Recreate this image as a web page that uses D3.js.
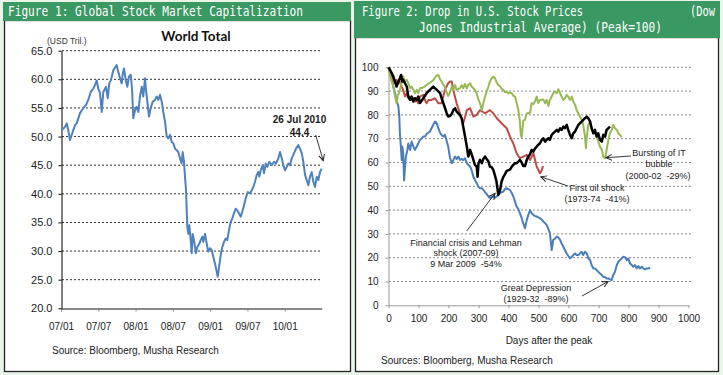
<!DOCTYPE html>
<html>
<head>
<meta charset="utf-8">
<script src="https://cdn.jsdelivr.net/npm/d3@7"></script>
<style>
body { margin: 0; background: #e9f5e9; }
svg { display: block; }
text { white-space: pre; }
</style>
</head>
<body>
<script>
// ---- Figure 1: world market cap (USD tril.), x = months since Jan 2007 ----
const worldMonths = [0.1,0.64,0.92,1.17,1.45,1.88,2.25,2.53,3.06,3.59,
  4.02,4.39,4.78,5.2,5.47,5.75,6.0,6.28,6.55,6.81,
  7.24,7.52,7.77,8.05,8.42,8.96,9.22,9.49,9.77,9.93,
  10.14,10.41,10.67,10.94,11.22,11.43,11.63,11.91,12.18,12.44,
  12.71,12.99,13.24,13.52,13.68,13.89,14.16,14.44,14.76,15.13,
  15.4,15.66,15.93,16.21,16.46,16.74,17.01,17.27,17.54,17.81,
  18.07,18.35,18.62,18.88,19.15,19.42,19.58,19.79,19.95,20.12,
  20.23,20.33,20.49,20.65,20.87,21.03,21.19,21.4,21.72,21.93,
  22.26,22.48,22.74,22.9,23.17,23.45,23.7,23.98,24.25,24.51,
  24.78,25.06,25.22,25.47,25.7,25.96,26.23,26.5,26.76,27.04,
  27.31,27.57,27.84,28.11,28.37,28.64,28.92,29.18,29.45,29.72,
  30.05,30.42,30.69,30.95,31.22,31.49,31.75,31.91,32.14,32.46,
  32.67,32.94,33.2,33.52,33.91,34.28,34.6,34.97,35.24,35.52,
  35.77,36.05,36.32,36.58,36.85,37.13,37.5,37.82,38.19,38.46,
  38.74,38.99,39.27,39.54,39.8,40.07,40.34,40.6,40.88,41.15,
  41.41,41.68,41.95];
const worldCap = [51.1,51.7,52.3,51.1,49.4,50.8,52.0,52.3,54.1,55.0,
  55.5,56.4,57.8,58.4,59.0,59.8,58.4,57.6,54.3,57.8,
  58.7,56.7,59.3,59.9,61.6,62.5,61.3,60.2,59.3,61.0,
  61.9,59.9,58.7,60.5,60.8,58.4,53.2,54.6,55.2,54.3,
  57.0,58.7,57.0,60.2,58.1,56.1,53.5,55.0,56.1,56.4,
  57.0,56.4,57.3,56.1,54.3,52.6,50.0,49.7,50.3,49.1,
  48.8,47.9,47.6,47.3,46.2,45.3,47.3,45.6,43.0,40.6,
  37.1,34.2,33.0,34.5,31.9,29.6,33.0,31.9,29.6,30.7,
  31.3,31.9,32.5,31.6,33.0,31.3,29.9,30.5,30.2,29.0,
  27.8,26.4,25.5,27.5,29.3,30.7,31.6,32.2,31.9,33.7,
  35.1,35.7,36.6,37.4,37.1,36.6,36.0,36.9,38.0,39.2,
  40.3,40.1,40.6,41.2,42.1,43.3,43.8,43.0,44.1,45.0,
  43.6,45.3,44.7,45.6,45.0,45.6,45.3,46.2,47.3,46.2,
  45.0,44.1,44.7,45.3,45.0,46.2,47.1,47.9,48.5,47.9,
  47.1,45.6,43.3,42.4,41.5,43.0,43.8,42.1,41.2,43.0,
  42.4,43.8,44.4];
const worldTicks = [0, 6, 12, 18, 24, 30, 36];
const worldTickLabels = ["07/01", "07/07", "08/01", "08/07", "09/01", "09/07", "10/01"];
const worldYTicks = [20, 25, 30, 35, 40, 45, 50, 55, 60, 65];

// ---- Figure 2: DJIA after peak (peak = 100), [day, index] ----
const depression = [[0,100],[5,97.5],[11,94.7],[16,91.9],[22,89],[27,86.3],[33,83.5],[36,79.3],[38,72.3],[42,65.3],
  [44,61],[46,66.7],[49,63.9],[52,52.5],[55,58],[58,62.5],[63,65.3],[66,68],[72,65.3],[77,68.8],
  [83,66.7],[88,65.3],[94,66.7],[99,68],[105,69.5],[111,70.2],[116,70.9],[122,70.9],[127,72],[133,72.5],
  [138,73],[144,74.5],[149,75.8],[155,77.2],[158,77],[163,75.8],[166,74.4],[172,72.5],[177,71.6],[183,70.9],
  [188,71.6],[194,69],[199,66.7],[205,62],[211,59.7],[216,61],[222,62.5],[227,61.5],[233,62.5],[238,61.1],
  [244,61.5],[249,61],[255,61.8],[261,59.7],[266,59],[272,58.3],[277,56.9],[283,54],[288,52.7],[294,51.3],
  [299,49.9],[305,49.2],[311,49.2],[316,48.5],[322,47.5],[327,46.8],[333,45.7],[338,45],[344,45.5],[349,45.7],
  [355,45.2],[361,45.7],[366,46.4],[372,47.1],[377,47.5],[383,47.8],[388,48.8],[394,49.2],[399,48.8],[405,48.5],
  [411,47.1],[416,45.7],[422,43.5],[427,41.5],[433,40.3],[438,38.7],[444,36.6],[449,34.5],[455,32.4],[461,35.9],
  [466,38],[472,40],[477,38.7],[483,38],[488,37.5],[494,37.3],[505,36.6],[511,36],[516,35.2],[522,34.5],
  [527,33.8],[533,32],[538,30.3],[544,23.2],[549,27.5],[555,28],[561,28.9],[566,28.5],[572,27.5],[577,26],
  [583,24.6],[588,23.2],[594,21.8],[599,20.8],[605,19.7],[611,20.4],[616,21.1],[622,21.8],[627,21.1],[633,21.1],
  [638,21.8],[644,22.5],[649,21.1],[655,22.5],[661,21.8],[666,19.7],[672,19],[677,16.9],[683,15.5],[688,15.5],
  [694,14.8],[699,14.1],[705,13.4],[711,12.7],[716,12],[722,11.8],[727,11.3],[733,11.3],[738,10.9],[744,10.6],
  [749,12.7],[755,14.1],[761,16.9],[766,18.3],[772,19],[777,19.7],[783,20.4],[788,20.2],[794,19],[799,19.7],
  [805,17.6],[811,16.9],[816,16.2],[822,16.9],[827,15.5],[833,16.5],[838,15.5],[844,16.2],[849,15.5],[855,15.1],
  [861,15.5],[866,15.5],[872,15.8]];
const oilShock = [[0,100],[5,98.2],[11,96.1],[16,94],[22,93.3],[27,94.7],[33,93.3],[38,94],[44,91.9],[49,90.5],
  [55,87.7],[61,89.1],[66,87],[72,87.7],[77,86.3],[83,87],[88,85.6],[94,86.3],[99,84.9],[105,87.7],
  [116,88.4],[122,86],[127,84.9],[133,86.3],[144,86.3],[155,87],[166,84.9],[177,84.9],[183,88],[188,90.5],
  [199,93.3],[205,94],[211,94],[216,90.5],[227,84.9],[238,80.7],[249,76.5],[255,79],[261,82],[272,82.8],
  [283,79.3],[294,80],[305,82],[322,80.7],[338,82],[349,80.7],[361,78.6],[377,76.5],[394,74.4],[405,70.9],
  [416,68],[427,63.9],[438,61.8],[449,62.5],[461,63.2],[472,61.1],[483,63.9],[494,58.3],[505,55.5],[510,56.5],
  [515,58.5]];
const itBubble = [[0,100],[5,96.8],[11,94],[16,91.9],[22,87.7],[27,84.9],[31,88.4],[35,89.1],[38,90.5],[44,94],
  [49,96.1],[55,94],[61,94.7],[66,93.3],[72,91.2],[77,91.9],[83,90.5],[88,89.1],[94,90.5],[99,89.1],
  [105,91.2],[116,91.5],[127,92.6],[138,93.5],[149,94.5],[160,96.5],[166,96.8],[172,95],[177,94],[183,92.6],
  [188,91.9],[194,89.5],[199,88],[205,89.5],[211,91.9],[216,90.5],[222,92.5],[227,90.5],[238,91.2],[244,92.5],
  [249,91.2],[255,93],[261,91.2],[266,92.6],[272,93.3],[277,91.9],[283,91.2],[288,90.5],[294,89],[300,86.3],
  [305,84.9],[311,82],[316,84.9],[322,87.7],[327,89.8],[333,91.9],[338,94],[344,95.4],[349,96.1],[355,95.4],
  [361,93.5],[366,92.6],[372,91.9],[377,91],[383,90.5],[388,89.5],[394,89.8],[399,89],[405,89.5],[411,89.1],
  [416,88],[422,87.7],[427,85],[433,82],[438,77],[441,71.6],[444,70.5],[449,77.5],[455,78],[461,80.7],
  [466,80.7],[472,81],[477,84.9],[483,84.5],[488,85.5],[494,87.7],[499,85],[505,86.3],[516,86.5],[522,84.9],
  [527,86.3],[533,83.8],[538,86.3],[544,87.7],[549,89.1],[555,89.8],[561,89.1],[566,90.8],[572,89.1],[577,87.7],
  [583,86.3],[588,87],[594,88.4],[599,87.7],[605,86.3],[611,87.7],[616,85.6],[622,84.2],[627,82.1],[633,80.7],
  [638,79.3],[644,77.9],[649,75.8],[655,70.9],[658,66],[661,70.9],[666,75.8],[672,77.2],[677,74.4],[683,72.3],
  [688,73.7],[694,70.9],[699,68.8],[705,66.7],[711,65.3],[716,62.5],[722,61.8],[727,65.3],[733,69.5],[738,72.3],
  [744,73.7],[749,75.8],[755,74.4],[761,73.7],[766,72.3],[772,71.6],[777,70.6]];
const lehman = [[0,100],[5,98.9],[11,97.5],[16,96.1],[22,94],[27,91.9],[33,94],[38,95.4],[42,96.8],[46,94],
  [49,94.7],[55,93.3],[61,91.9],[66,87.7],[72,86.3],[77,87.7],[83,85.6],[88,87],[94,86.3],[99,87.7],
  [105,85],[116,87],[127,89.1],[138,90.5],[149,91.9],[161,90.5],[172,89.1],[177,87],[183,84.9],[188,83],
  [194,80.7],[199,79.3],[205,79.5],[211,80.5],[216,82],[222,82.8],[227,81.4],[233,80.7],[238,80],[244,78.5],
  [249,75.1],[255,71],[261,66.7],[266,62.5],[272,65.3],[277,63.5],[283,61.1],[288,59],[294,58.3],[297,54],
  [300,59.7],[305,61.1],[311,59.7],[316,61.5],[322,62.5],[327,61.5],[333,60.5],[338,58.3],[344,58],[349,57],
  [355,54.5],[360,52],[366,46.4],[372,48.5],[377,52],[383,54],[388,55],[394,56.5],[405,57],[411,58.3],
  [416,59],[422,59.7],[427,59.7],[433,60.4],[438,61.1],[444,60],[449,58.5],[455,58.5],[461,61.1],[466,62.5],
  [472,63.5],[477,65.3],[483,64.6],[488,65.8],[494,66.7],[499,67.4],[505,68.1],[511,69.5],[516,70.2],[522,68.8],
  [527,69.5],[533,70.2],[538,69.5],[544,71.6],[549,72.3],[555,73],[561,73.7],[566,73],[572,74.4],[577,73.7],
  [583,75.1],[588,74.4],[594,75.8],[599,73.7],[605,71.6],[611,70.2],[616,72.3],[622,73],[627,74.4],[633,75.8],
  [638,76.5],[644,77.2],[649,77.9],[655,78.6],[661,79.3],[666,78.6],[672,77.2],[677,74.4],[683,72.3],[688,73.7],
  [694,70.9],[699,72.3],[705,69.5],[711,68.8],[716,71.6],[722,70.9],[727,73.7],[733,74.4],[738,75.1]];
const dayTicks = [0, 100, 200, 300, 400, 500, 600, 700, 800, 900, 1000];
const peakTicks = [0, 10, 20, 30, 40, 50, 60, 70, 80, 90, 100];

const W = 723, H = 375;
const headGreen = "#3a9862";
const txtFont = "'Liberation Sans', Arial, sans-serif";

const svg = d3.select("body").append("svg")
    .attr("width", W)
    .attr("height", H);

svg.append("rect").attr("width", W).attr("height", H).attr("fill", "#e9f5e9");

// arrowhead
svg.append("defs").append("marker")
    .attr("id", "arr")
    .attr("markerUnits", "userSpaceOnUse")
    .attr("markerWidth", 8).attr("markerHeight", 8)
    .attr("refX", 6).attr("refY", 3.5)
    .attr("orient", "auto")
    .append("path")
    .attr("d", "M0,0.5 L6,3.5 L0,6.5")
    .attr("fill", "none")
    .attr("stroke", "#222")
    .attr("stroke-width", 1);

// panels
svg.append("rect").attr("x", 4.5).attr("y", 20.5).attr("width", 346).attr("height", 351)
    .attr("fill", "#fff").attr("stroke", "#222").attr("stroke-width", 1.3);
svg.append("rect").attr("x", 3).attr("y", 2).attr("width", 348).attr("height", 19).attr("fill", headGreen);

svg.append("rect").attr("x", 355.5).attr("y", 37.5).attr("width", 363).attr("height", 334)
    .attr("fill", "#fff").attr("stroke", "#222").attr("stroke-width", 1.3);
svg.append("rect").attr("x", 354).attr("y", 1).attr("width", 366).attr("height", 37).attr("fill", headGreen);

function headerText(x, y, len, str) {
    svg.append("text")
        .attr("x", x).attr("y", y)
        .attr("textLength", len)
        .attr("lengthAdjust", "spacingAndGlyphs")
        .attr("font-family", "'DejaVu Sans Mono', monospace")
        .attr("font-size", 14)
        .attr("fill", "#fff")
        .text(str);
}
headerText(8, 16, 295, "Figure 1: Global Stock Market Capitalization");
headerText(362, 15.5, 221, "Figure 2: Drop in U.S. Stock Prices");
headerText(690, 15.5, 25, "(Dow");
headerText(419, 32, 243, "Jones Industrial Average) (Peak=100)");

function label(x, y, str, opts = {}) {
    return svg.append("text")
        .attr("x", x).attr("y", y)
        .attr("text-anchor", opts.anchor || "start")
        .attr("font-family", opts.family || txtFont)
        .attr("font-size", opts.size || 9)
        .attr("font-weight", opts.weight || "normal")
        .attr("fill", opts.fill || "#1a1a1a")
        .text(str);
}

function arrow(x1, y1, x2, y2) {
    svg.append("line")
        .attr("x1", x1).attr("y1", y1).attr("x2", x2).attr("y2", y2)
        .attr("stroke", "#222").attr("stroke-width", 0.9)
        .attr("marker-end", "url(#arr)");
}

function styleAxis(g, col, size) {
    g.select(".domain").attr("stroke", col);
    g.selectAll(".tick line").attr("stroke", col);
    g.selectAll(".tick text")
        .attr("font-family", txtFont)
        .attr("font-size", size)
        .attr("fill", "#222");
}

// ================= Figure 1 =================
const xL = d3.scaleLinear().domain([0, 41.95]).range([61, 321.7]);
const yL = d3.scaleLinear().domain([20, 65]).range([308.3, 50.7]);

svg.append("g").selectAll("line")
    .data(worldYTicks.filter(v => v > 20))
    .enter().append("line")
    .attr("x1", 62).attr("x2", 320)
    .attr("y1", d => yL(d)).attr("y2", d => yL(d))
    .attr("stroke", "#333")
    .attr("stroke-width", 1)
    .attr("stroke-dasharray", "2,2");

const gxL = svg.append("g")
    .attr("transform", "translate(0,308.5)")
    .call(d3.axisBottom(xL).tickValues(worldTicks)
        .tickFormat((d, i) => worldTickLabels[i])
        .tickSizeInner(3).tickSizeOuter(0).tickPadding(11));
styleAxis(gxL, "#888", 10);
gxL.select(".domain").attr("stroke-width", 2);

const gyL = svg.append("g")
    .attr("transform", "translate(61.5,0)")
    .call(d3.axisLeft(yL).tickValues(worldYTicks)
        .tickFormat(d3.format(".1f"))
        .tickSizeInner(3).tickSizeOuter(0).tickPadding(6));
styleAxis(gyL, "#000", 11);

svg.append("path")
    .datum(worldCap)
    .attr("d", d3.line().x((d, i) => xL(worldMonths[i])).y(d => yL(d)))
    .attr("fill", "none")
    .attr("stroke", "#4f81bd")
    .attr("stroke-width", 2)
    .attr("stroke-linejoin", "round");

label(196, 40.5, "World Total", { anchor: "middle", size: 13.5, weight: "bold", family: "Lato, 'Liberation Sans', sans-serif", fill: "#111" });
label(47, 44, "(USD Tril.)", { size: 8.5, fill: "#333" });

const lastM = worldMonths[worldMonths.length - 1], lastV = worldCap[worldCap.length - 1];
label(299.5, 123, "26 Jul 2010", { anchor: "middle", size: 10, weight: "bold" });
label(299.5, 135.5, d3.format(".1f")(lastV), { anchor: "middle", size: 10, weight: "bold" });
arrow(315.7, 135, xL(lastM) + 1.5, yL(lastV) - 8);

label(52, 353.5, "Source: Bloomberg, Musha Research", { size: 10, fill: "#222" });

// ================= Figure 2 =================
const xR = d3.scaleLinear().domain([0, 1000]).range([388.5, 688.5]);
const yR = d3.scaleLinear().domain([0, 100]).range([305.3, 67.3]);

svg.append("g").selectAll("line")
    .data(peakTicks.filter(v => v > 0))
    .enter().append("line")
    .attr("x1", 389).attr("x2", 693)
    .attr("y1", d => yR(d)).attr("y2", d => yR(d))
    .attr("stroke", "#888")
    .attr("stroke-width", 1)
    .attr("stroke-dasharray", "2,2");

const gxR = svg.append("g")
    .attr("transform", "translate(0,305.3)")
    .call(d3.axisBottom(xR).tickValues(dayTicks)
        .tickFormat(d3.format("d"))
        .tickSizeInner(3).tickSizeOuter(0).tickPadding(7));
styleAxis(gxR, "#999", 10);

const gyR = svg.append("g")
    .attr("transform", "translate(388.5,0)")
    .call(d3.axisLeft(yR).tickValues(peakTicks)
        .tickFormat(d3.format("d"))
        .tickSizeInner(3).tickSizeOuter(0).tickPadding(7));
styleAxis(gyR, "#999", 10);

const lineR = d3.line().x(d => xR(d[0])).y(d => yR(d[1]));
const seriesR = [
    { data: depression, color: "#4a7ebb", width: 2 },
    { data: oilShock, color: "#be4b48", width: 2 },
    { data: itBubble, color: "#98b954", width: 2 },
    { data: lehman, color: "#000000", width: 2.5 }
];
seriesR.forEach(s => {
    svg.append("path")
        .datum(s.data)
        .attr("d", lineR)
        .attr("fill", "none")
        .attr("stroke", s.color)
        .attr("stroke-width", s.width)
        .attr("stroke-linejoin", "round");
});

// annotations
label(659, 156, "Bursting of IT", { anchor: "middle" });
label(659, 167, "bubble", { anchor: "middle" });
label(658, 178.5, "(2000-02  -29%)", { anchor: "middle" });
arrow(631, 156, xR(725), yR(62));

label(597, 190.5, "First oil shock", { anchor: "middle" });
label(597, 202, "(1973-74  -41%)", { anchor: "middle" });
arrow(568, 186, xR(508), yR(54));

label(466, 245.5, "Financial crisis and Lehman", { anchor: "middle" });
label(466, 256, "shock (2007-09)", { anchor: "middle" });
label(466, 266.5, "9 Mar 2009  -54%", { anchor: "middle" });
arrow(466.7, 231, xR(355), yR(47));

label(536, 290.5, "Great Depression", { anchor: "middle" });
label(536, 302, "(1929-32  -89%)", { anchor: "middle" });
arrow(582, 296, xR(732), yR(10));

label(549, 343.5, "Days after the peak", { anchor: "middle", size: 10 });
label(381, 363.5, "Sources: Bloomberg, Musha Research", { size: 10, fill: "#222" });
</script>
</body>
</html>
